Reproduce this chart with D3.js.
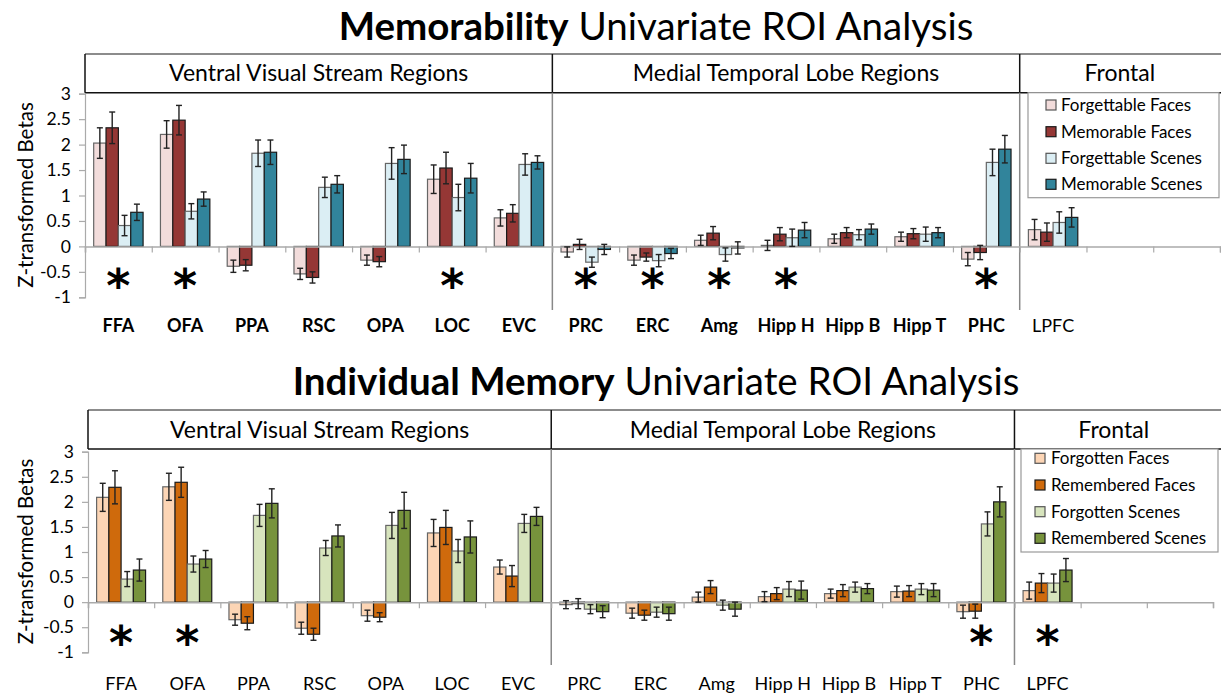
<!DOCTYPE html>
<html>
<head>
<meta charset="utf-8">
<script src="https://cdn.jsdelivr.net/npm/d3@7"></script>
<style>
  body { margin: 0; background: #fff; }
  svg { display: block; font-family: Lato, 'Open Sans', sans-serif; }
</style>
</head>
<body>
<div id="chart"></div>
<script>
// regions on the x axis (two empty slots after LPFC)
const regions = ['FFA', 'OFA', 'PPA', 'RSC', 'OPA', 'LOC', 'EVC', 'PRC', 'ERC', 'Amg', 'Hipp H', 'Hipp B', 'Hipp T', 'PHC', 'LPFC'];
const slots = 17;
const sections = ['Ventral Visual Stream Regions', 'Medial Temporal Lobe Regions', 'Frontal'];
const sectionBreaks = [0, 7, 14, 17];
const yTicks = [-1, -0.5, 0, 0.5, 1, 1.5, 2, 2.5, 3];

// Memorability panel
const memSeries = ['Forgettable Faces', 'Memorable Faces', 'Forgettable Scenes', 'Memorable Scenes'];
const memColors = ['#f2dcdb', '#953735', '#dbeef4', '#31849b'];
const forgettableFaces = [2.03, 2.20, -0.39, -0.54, -0.27, 1.32, 0.56, -0.11, -0.27, 0.12, 0.02, 0.15, 0.19, -0.25, 0.33];
const forgettableFacesErr = [0.30, 0.27, 0.12, 0.11, 0.10, 0.28, 0.16, 0.10, 0.10, 0.10, 0.10, 0.09, 0.09, 0.13, 0.20];
const memorableFaces = [2.33, 2.48, -0.37, -0.61, -0.30, 1.54, 0.65, 0.04, -0.21, 0.26, 0.24, 0.27, 0.25, -0.12, 0.28];
const memorableFacesErr = [0.31, 0.29, 0.11, 0.11, 0.10, 0.31, 0.17, 0.10, 0.08, 0.13, 0.13, 0.10, 0.10, 0.14, 0.18];
const forgettableScenes = [0.41, 0.69, 1.83, 1.16, 1.63, 0.96, 1.61, -0.31, -0.28, -0.16, 0.17, 0.23, 0.24, 1.65, 0.47];
const forgettableScenesErr = [0.20, 0.15, 0.26, 0.20, 0.31, 0.26, 0.21, 0.10, 0.12, 0.13, 0.17, 0.10, 0.14, 0.26, 0.21];
const memorableScenes = [0.67, 0.93, 1.85, 1.22, 1.71, 1.34, 1.65, -0.06, -0.14, -0.03, 0.32, 0.34, 0.27, 1.91, 0.57];
const memorableScenesErr = [0.16, 0.14, 0.24, 0.17, 0.28, 0.29, 0.13, 0.10, 0.10, 0.12, 0.15, 0.10, 0.10, 0.27, 0.19];
const memStars = ['FFA', 'OFA', 'LOC', 'PRC', 'ERC', 'Amg', 'Hipp H', 'PHC'];

// Individual memory panel
const indSeries = ['Forgotten Faces', 'Remembered Faces', 'Forgotten Scenes', 'Remembered Scenes'];
const indColors = ['#fcd5b5', '#cf6a0c', '#d7e4bd', '#77933c'];
const forgottenFaces = [2.09, 2.30, -0.35, -0.52, -0.27, 1.38, 0.70, -0.05, -0.22, 0.10, 0.11, 0.17, 0.21, -0.19, 0.23];
const forgottenFacesErr = [0.28, 0.27, 0.11, 0.12, 0.11, 0.27, 0.14, 0.08, 0.10, 0.10, 0.10, 0.09, 0.11, 0.13, 0.17];
const rememberedFaces = [2.29, 2.39, -0.42, -0.64, -0.30, 1.49, 0.52, -0.03, -0.26, 0.30, 0.17, 0.23, 0.22, -0.18, 0.38];
const rememberedFacesErr = [0.33, 0.30, 0.13, 0.12, 0.09, 0.34, 0.21, 0.10, 0.10, 0.13, 0.12, 0.12, 0.11, 0.14, 0.19];
const forgottenScenes = [0.46, 0.76, 1.73, 1.08, 1.53, 1.02, 1.57, -0.14, -0.20, -0.06, 0.26, 0.30, 0.26, 1.56, 0.38];
const forgottenScenesErr = [0.15, 0.16, 0.22, 0.15, 0.26, 0.23, 0.18, 0.09, 0.10, 0.10, 0.15, 0.10, 0.11, 0.24, 0.18];
const rememberedScenes = [0.64, 0.86, 1.97, 1.32, 1.83, 1.30, 1.71, -0.19, -0.23, -0.14, 0.24, 0.27, 0.24, 2.00, 0.64];
const rememberedScenesErr = [0.22, 0.17, 0.29, 0.22, 0.36, 0.32, 0.18, 0.12, 0.13, 0.14, 0.18, 0.10, 0.13, 0.30, 0.23];
const indStars = ['FFA', 'OFA', 'PHC', 'LPFC'];

const width = 1221;
const height = 693;

const svg = d3.select('#chart')
  .append('svg')
  .attr('width', width)
  .attr('height', height)
  .attr('xmlns', 'http://www.w3.org/2000/svg');

const panels = [
  {
    bold: 'Memorability', rest: ' Univariate ROI Analysis', titleY: 40,
    series: memSeries, colors: memColors,
    values: [forgettableFaces, memorableFaces, forgettableScenes, memorableScenes],
    errors: [forgettableFacesErr, memorableFacesErr, forgettableScenesErr, memorableScenesErr],
    stars: memStars, boldLabels: true,
    x0: 85, x1: 1220, yTop: 93.7, yBot: 297.3,
    headTop: 54, headBot: 92.7, sepBot: 310, labelY: 332, starY: 280,
    legend: { x: 1028, y: 92.7, w: 191, h: 105, swatchX: 1046, textX: 1061, rowY: [105, 131.7, 158.3, 184.3] },
  },
  {
    bold: 'Individual Memory', rest: ' Univariate ROI Analysis', titleY: 395,
    series: indSeries, colors: indColors,
    values: [forgottenFaces, rememberedFaces, forgottenScenes, rememberedScenes],
    errors: [forgottenFacesErr, rememberedFacesErr, forgottenScenesErr, rememberedScenesErr],
    stars: indStars, boldLabels: false,
    x0: 88, x1: 1213, yTop: 451.7, yBot: 652.3,
    headTop: 410, headBot: 449, sepBot: 665, labelY: 690, starY: 637,
    legend: { x: 1021, y: 449, w: 197, h: 103, swatchX: 1035, textX: 1051, rowY: [458.3, 485, 511.7, 538.3] },
  },
];

const lightBar = [true, false, true, false];
const starSize = 46;

panels.forEach(p => drawPanel(p));

function drawPanel(p) {
  const g = svg.append('g');

  const xLin = d3.scaleLinear().domain([0, slots]).range([p.x0, p.x1]);
  const band = d3.scaleBand()
    .domain(d3.range(slots))
    .range([p.x0, p.x1])
    .paddingInner(0.26)
    .paddingOuter(0.13);
  const sub = d3.scaleBand().domain(d3.range(4)).range([0, band.bandwidth()]);
  const y = d3.scaleLinear().domain([-1, 3]).range([p.yBot, p.yTop]);

  // title
  const title = g.append('text')
    .attr('x', 656)
    .attr('y', p.titleY)
    .attr('text-anchor', 'middle')
    .attr('fill', '#000')
    .style('font-size', '38.5px');
  title.append('tspan').attr('font-weight', 'bold').text(p.bold);
  title.append('tspan').text(p.rest);

  // header boxes
  g.append('line')
    .attr('x1', p.x0).attr('x2', width)
    .attr('y1', p.headTop).attr('y2', p.headTop)
    .attr('stroke', '#666').attr('stroke-width', 1.5);
  g.append('line')
    .attr('x1', p.x0).attr('x2', width)
    .attr('y1', p.headBot).attr('y2', p.headBot)
    .attr('stroke', '#111').attr('stroke-width', 1.5);

  sectionBreaks.forEach((b, i) => {
    if (i < sectionBreaks.length - 1) {
      // section label
      g.append('text')
        .attr('x', (xLin(b) + xLin(sectionBreaks[i + 1])) / 2)
        .attr('y', (p.headTop + p.headBot) / 2 + 8)
        .attr('text-anchor', 'middle')
        .attr('fill', '#000')
        .style('font-size', '23px')
        .text(sections[i]);
    }
    if (b === 0) {
      g.append('line')
        .attr('x1', xLin(b)).attr('x2', xLin(b))
        .attr('y1', p.headTop).attr('y2', p.headBot)
        .attr('stroke', '#111').attr('stroke-width', 1.5);
    } else if (b < slots) {
      g.append('line')
        .attr('x1', xLin(b)).attr('x2', xLin(b))
        .attr('y1', p.headTop).attr('y2', p.headBot)
        .attr('stroke', '#111').attr('stroke-width', 1.5);
      g.append('line')
        .attr('x1', xLin(b)).attr('x2', xLin(b))
        .attr('y1', p.headBot).attr('y2', p.sepBot)
        .attr('stroke', '#888').attr('stroke-width', 1.5);
    }
  });

  // y axis
  const yAxis = g.append('g')
    .attr('transform', `translate(${p.x0},0)`)
    .call(d3.axisLeft(y).tickValues(yTicks).tickSize(6).tickPadding(8).tickFormat(d3.format('')));
  yAxis.select('.domain').attr('stroke', '#aaa').attr('stroke-width', 1.2);
  yAxis.selectAll('.tick line').attr('stroke', '#aaa').attr('stroke-width', 1.2);
  yAxis.selectAll('.tick text')
    .attr('fill', '#000')
    .style('font-size', '17.5px')
    .style('font-family', 'Lato, sans-serif')
    .text(d => d < 0 ? '-' + Math.abs(d) : d);

  // y label
  g.append('text')
    .attr('transform', `translate(33,${(p.yTop + p.yBot) / 2 - 0.5}) rotate(-90)`)
    .attr('text-anchor', 'middle')
    .attr('fill', '#000')
    .style('font-size', '20.5px')
    .text('Z-transformed Betas');

  // bars
  const rows = [];
  p.values.forEach((vals, s) => {
    vals.forEach((v, i) => rows.push({ i, s, v, e: p.errors[s][i] }));
  });

  g.append('g').selectAll('rect')
    .data(rows)
    .join('rect')
    .attr('x', d => band(d.i) + sub(d.s))
    .attr('width', sub.bandwidth())
    .attr('y', d => y(Math.max(0, d.v)))
    .attr('height', d => Math.abs(y(d.v) - y(0)))
    .attr('fill', d => p.colors[d.s])
    .attr('stroke', d => lightBar[d.s] ? '#666' : '#1a1a1a')
    .attr('stroke-width', 1.2);

  // zero line with category ticks
  const zeroAxis = g.append('g')
    .attr('transform', `translate(0,${y(0)})`)
    .call(d3.axisBottom(xLin).tickValues(d3.range(slots + 1)).tickSize(6).tickFormat(''));
  zeroAxis.select('.domain').attr('stroke', '#aaa').attr('stroke-width', 1.5);
  zeroAxis.selectAll('.tick line').attr('stroke', '#aaa').attr('stroke-width', 1.2);

  // error bars
  const eb = g.append('g').attr('stroke', '#222').attr('stroke-width', 1.4);
  const cx = d => band(d.i) + sub(d.s) + sub.bandwidth() / 2;
  eb.selectAll('line.v')
    .data(rows)
    .join('line')
    .attr('class', 'v')
    .attr('x1', cx).attr('x2', cx)
    .attr('y1', d => y(d.v + d.e)).attr('y2', d => y(d.v - d.e));
  eb.selectAll('line.cap-top')
    .data(rows)
    .join('line')
    .attr('class', 'cap-top')
    .attr('x1', d => cx(d) - 3).attr('x2', d => cx(d) + 3)
    .attr('y1', d => y(d.v + d.e)).attr('y2', d => y(d.v + d.e));
  eb.selectAll('line.cap-bot')
    .data(rows)
    .join('line')
    .attr('class', 'cap-bot')
    .attr('x1', d => cx(d) - 3).attr('x2', d => cx(d) + 3)
    .attr('y1', d => y(d.v - d.e)).attr('y2', d => y(d.v - d.e));

  // region labels
  const labelAxis = g.append('g')
    .attr('transform', `translate(0,${p.labelY - 18})`)
    .call(d3.axisBottom(band).tickSize(0).tickPadding(0).tickFormat(i => regions[i] || ''));
  labelAxis.select('.domain').remove();
  labelAxis.selectAll('.tick text')
    .attr('fill', '#000')
    .attr('dy', '0')
    .attr('y', 18)
    .style('font-size', '18px')
    .style('font-family', 'Lato, sans-serif')
    .attr('font-weight', i => p.boldLabels && regions[i] !== 'LPFC' ? 'bold' : 'normal');

  // significance stars (glyph centre sits about 0.48em above the baseline)
  g.append('g').selectAll('text')
    .data(p.stars)
    .join('text')
    .attr('x', d => band(regions.indexOf(d)) + band.bandwidth() / 2)
    .attr('y', p.starY + starSize * 0.48)
    .attr('text-anchor', 'middle')
    .attr('font-weight', 'bold')
    .attr('fill', '#000')
    .style('font-size', `${starSize}px`)
    .style('font-family', "'DejaVu Sans', sans-serif")
    .text('*');

  // legend
  const L = p.legend;
  g.append('rect')
    .attr('x', L.x).attr('y', L.y)
    .attr('width', L.w).attr('height', L.h)
    .attr('fill', '#fff')
    .attr('stroke', '#999').attr('stroke-width', 1.2);
  p.series.forEach((name, s) => {
    g.append('rect')
      .attr('x', L.swatchX).attr('y', L.rowY[s] - 5)
      .attr('width', 10).attr('height', 10)
      .attr('fill', p.colors[s])
      .attr('stroke', lightBar[s] ? '#555' : '#1a1a1a')
      .attr('stroke-width', 1.2);
    g.append('text')
      .attr('x', L.textX).attr('y', L.rowY[s] + 6)
      .attr('fill', '#000')
      .style('font-size', '17px')
      .text(name);
  });
}
</script>
</body>
</html>
